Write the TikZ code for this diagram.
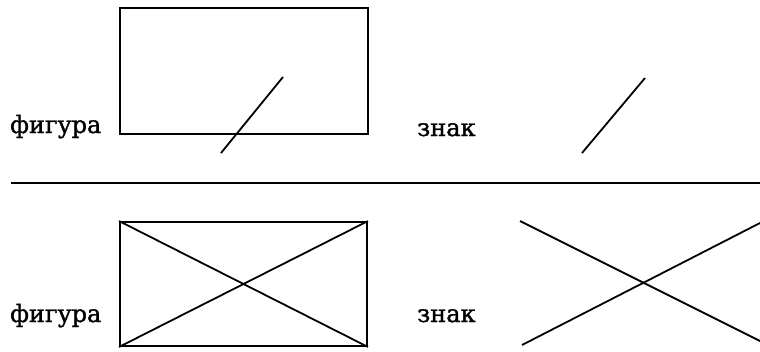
\documentclass[tikz,border=0pt]{standalone}
\usepackage{fontspec}
\setmainfont{DejaVu Serif}
\newfontfamily\lblfont[FakeBold=1.3]{DejaVu Serif}
\begin{document}
\begin{tikzpicture}[x=1pt,y=-1pt,
  fig/.style={draw,line width=1.9pt,rectangle,inner sep=0pt},
  stroke/.style={line width=1.8pt},
  lbl/.style={anchor=base west,inner sep=0pt,font=\lblfont\fontsize{24}{28}\selectfont}]
\useasboundingbox (0,0) rectangle (760,351);
% top row
\node[fig,minimum width=248pt,minimum height=126pt] (r1) at (244,71) {};
\node[lbl] (f1) at (10,133) {фигура};
\node[lbl] (z1) at (417,136) {знак};
\coordinate (a1) at (221,153); \coordinate (b1) at (283,77);
\draw[stroke] (a1) -- (b1);
\coordinate (a2) at (582,153); \coordinate (b2) at (645,78);
\draw[stroke] (a2) -- (b2);
% separator
\coordinate (s1) at (11,183); \coordinate (s2) at (760,183);
\draw[line width=2.6pt] (s1) -- (s2);
% bottom row
\node[fig,minimum width=247pt,minimum height=124pt] (r2) at (243.5,284) {};
\draw[stroke] (r2.north west) -- (r2.south east);
\draw[stroke] (r2.south west) -- (r2.north east);
\node[lbl] (f2) at (10,322) {фигура};
\node[lbl] (z2) at (417,322) {знак};
\coordinate (c1) at (520,221); \coordinate (d1) at (760,341);
\coordinate (c2) at (522,345); \coordinate (d2) at (760,223);
\draw[stroke] (c1) -- (d1);
\draw[stroke] (c2) -- (d2);
\end{tikzpicture}
\end{document}
